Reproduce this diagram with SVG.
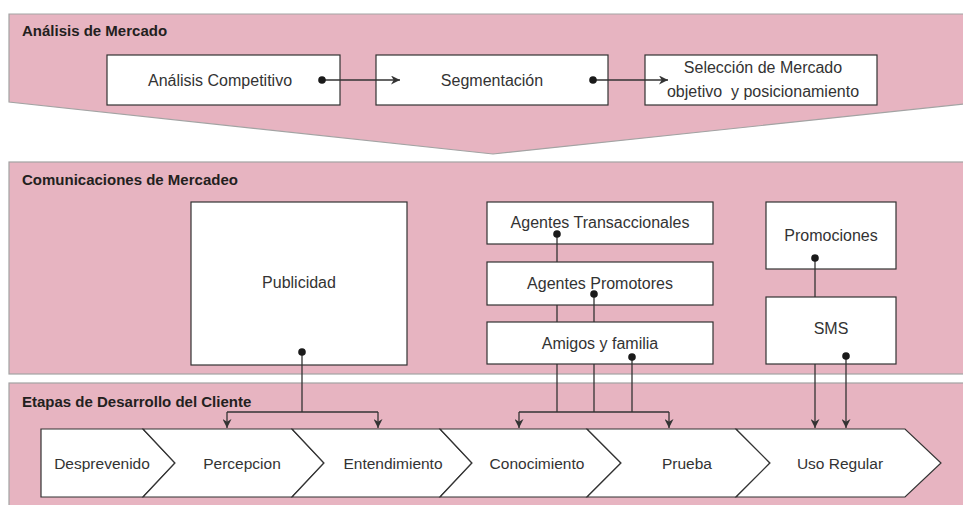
<svg xmlns="http://www.w3.org/2000/svg" width="963" height="505" viewBox="0 0 963 505">
<style>
.panel{fill:#e7b4c1;stroke:#a3a3a3;stroke-width:1.2}
.box{fill:#fff;stroke:#333;stroke-width:1.2}
.title{font-family:"Liberation Sans",Arial,sans-serif;font-weight:bold;font-size:15px;fill:#231f20}
.lbl{font-family:"Liberation Sans",Arial,sans-serif;font-size:16px;fill:#333;text-anchor:middle}
.stg{font-size:15.5px}
.pre{white-space:pre}
.ln{stroke:#333;stroke-width:1.3;fill:none}
.dot{fill:#1a1a1a}
</style>
<defs>
<marker id="ah" viewBox="0 0 10 10" refX="10" refY="5" markerWidth="9" markerHeight="9" markerUnits="userSpaceOnUse" orient="auto">
<path d="M0,0 L10,5 L0,10 L3,5 Z" fill="#333"/>
</marker>
</defs>
<rect width="963" height="505" fill="#fff"/>
<g id="panel-analisis">
<polygon class="panel" points="9,14 964,14 964,104 493,154 9,102"/>
<text class="title" x="22" y="36">Análisis de Mercado</text>
</g>
<g id="panel-comunicaciones">
<rect class="panel" x="9" y="162" width="956" height="212"/>
<text class="title" x="22" y="185">Comunicaciones de Mercadeo</text>
</g>
<g id="panel-etapas">
<rect class="panel" x="9" y="383" width="956" height="125"/>
<text class="title" x="22" y="407">Etapas de Desarrollo del Cliente</text>
</g>
<g id="n-analisis-competitivo">
<rect class="box" x="107" y="55" width="233" height="50"/>
<text class="lbl" x="220" y="86">Análisis Competitivo</text>
</g>
<g id="n-segmentacion">
<rect class="box" x="376" y="55" width="232" height="50"/>
<text class="lbl" x="492" y="86">Segmentación</text>
</g>
<g id="n-seleccion">
<rect class="box" x="645" y="55" width="232" height="50"/>
<text class="lbl" x="763" y="73">Selección de Mercado</text>
<text class="lbl pre" x="763" y="97">objetivo  y posicionamiento</text>
</g>
<g id="n-publicidad">
<rect class="box" x="191" y="202" width="216" height="163"/>
<text class="lbl" x="299" y="288">Publicidad</text>
</g>
<g id="n-agentes-transaccionales">
<rect class="box" x="487" y="202" width="226" height="42"/>
<text class="lbl" x="600" y="228">Agentes Transaccionales</text>
</g>
<g id="n-agentes-promotores">
<rect class="box" x="487" y="262" width="226" height="43"/>
<text class="lbl" x="600" y="289">Agentes Promotores</text>
</g>
<g id="n-amigos">
<rect class="box" x="487" y="322" width="226" height="42"/>
<text class="lbl" x="600" y="349">Amigos y familia</text>
</g>
<g id="n-promociones">
<rect class="box" x="766" y="202" width="130" height="67"/>
<text class="lbl" x="831" y="241">Promociones</text>
</g>
<g id="n-sms">
<rect class="box" x="766" y="297" width="130" height="67"/>
<text class="lbl" x="831" y="334">SMS</text>
</g>
<g id="n-etapas">
<path class="box" d="M41,429 H143 L175,463 L143,497 H41 Z"/>
<path class="box" d="M143,429 H292 L324,463 L292,497 H143 L175,463 Z"/>
<path class="box" d="M292,429 H440 L472,463 L440,497 H292 L324,463 Z"/>
<path class="box" d="M440,429 H587 L621,463 L587,497 H440 L472,463 Z"/>
<path class="box" d="M587,429 H736 L770,463 L736,497 H587 L621,463 Z"/>
<path class="box" d="M736,429 H905 L941,463 L905,497 H736 L770,463 Z"/>
<text class="lbl stg" x="102" y="469">Desprevenido</text>
<text class="lbl stg" x="242" y="469">Percepcion</text>
<text class="lbl stg" x="393" y="469">Entendimiento</text>
<text class="lbl stg" x="537" y="469">Conocimiento</text>
<text class="lbl stg" x="687" y="469">Prueba</text>
<text class="lbl stg" x="840" y="469">Uso Regular</text>
</g>
<g id="connectors">
<line class="ln" x1="322" y1="80" x2="400" y2="80" marker-end="url(#ah)"/>
<circle class="dot" cx="322" cy="80" r="3.8"/>
<line class="ln" x1="593" y1="80" x2="668" y2="80" marker-end="url(#ah)"/>
<circle class="dot" cx="593" cy="80" r="3.8"/>
<polyline class="ln" points="302,352 302,412"/>
<polyline class="ln" points="227,412 378,412"/>
<line class="ln" x1="227" y1="412" x2="227" y2="428" marker-end="url(#ah)"/>
<line class="ln" x1="378" y1="412" x2="378" y2="428" marker-end="url(#ah)"/>
<circle class="dot" cx="302" cy="352" r="3.8"/>
<line class="ln" x1="557" y1="234" x2="557" y2="262"/>
<line class="ln" x1="557" y1="305" x2="557" y2="322"/>
<line class="ln" x1="557" y1="364" x2="557" y2="412"/>
<line class="ln" x1="594" y1="294" x2="594" y2="322"/>
<line class="ln" x1="594" y1="364" x2="594" y2="412"/>
<line class="ln" x1="632" y1="357" x2="632" y2="412"/>
<polyline class="ln" points="519,412 669,412"/>
<line class="ln" x1="519" y1="412" x2="519" y2="428" marker-end="url(#ah)"/>
<line class="ln" x1="669" y1="412" x2="669" y2="428" marker-end="url(#ah)"/>
<circle class="dot" cx="557" cy="234" r="3.8"/>
<circle class="dot" cx="594" cy="294" r="3.8"/>
<circle class="dot" cx="632" cy="357" r="3.8"/>
<line class="ln" x1="815" y1="258" x2="815" y2="297"/>
<circle class="dot" cx="815" cy="258" r="3.8"/>
<line class="ln" x1="815" y1="364" x2="815" y2="428" marker-end="url(#ah)"/>
<line class="ln" x1="846" y1="356" x2="846" y2="428" marker-end="url(#ah)"/>
<circle class="dot" cx="846" cy="356" r="3.8"/>
</g>
</svg>
